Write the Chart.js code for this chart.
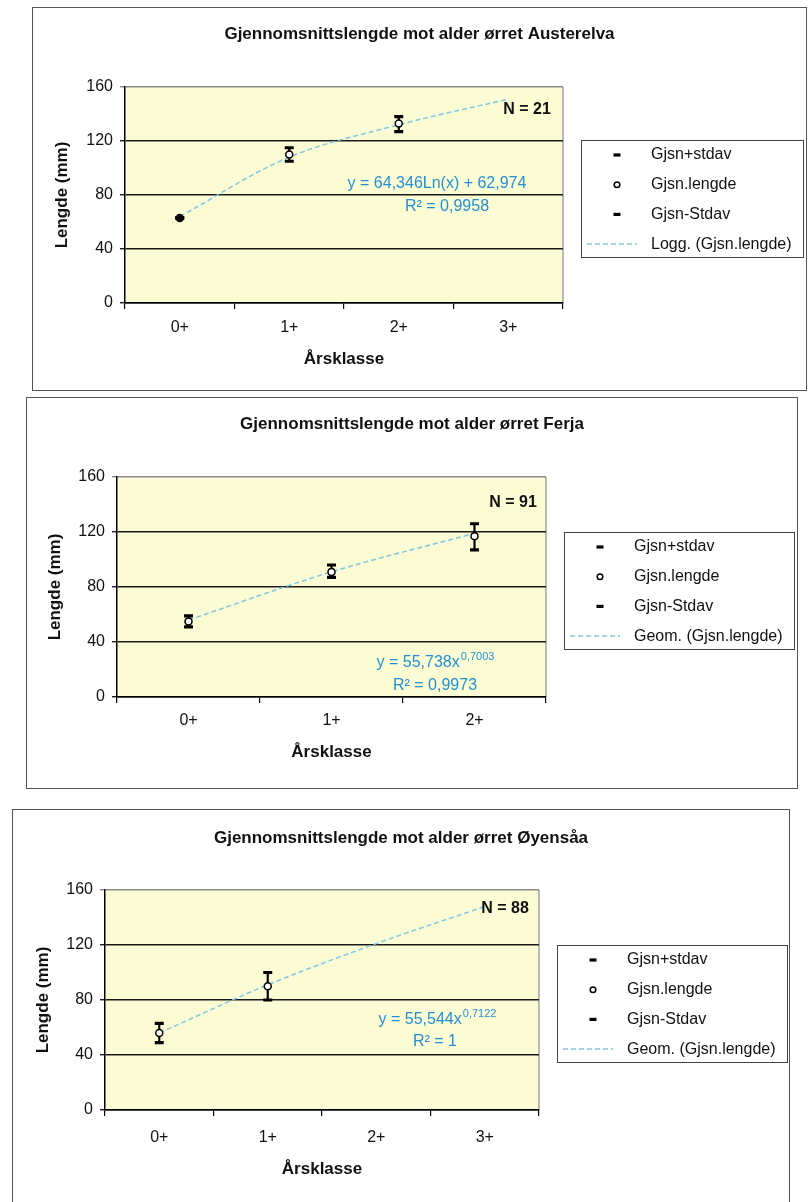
<!DOCTYPE html>
<html lang="no">
<head>
<meta charset="utf-8">
<title>Gjennomsnittslengde mot alder ørret</title>
<script src="https://cdn.jsdelivr.net/npm/chart.js@4.4.1/dist/chart.umd.min.js"></script>
<style>
  body { margin: 0; background: #fff; width: 811px; height: 1202px; position: relative; overflow: hidden; }
  .ramme { position: absolute; border: 1px solid #555; box-sizing: border-box; }
  canvas { position: absolute; }
</style>
</head>
<body>
<div class="ramme" style="left:32px;top:7px;width:775px;height:384px"></div>
<canvas id="austerelva" width="775" height="384" style="left:32px;top:7px"></canvas>

<div class="ramme" style="left:26px;top:397px;width:772px;height:392px"></div>
<canvas id="ferja" width="772" height="392" style="left:26px;top:397px"></canvas>

<div class="ramme" style="left:12px;top:809px;width:778px;height:400px"></div>
<canvas id="oyensaa" width="778" height="400" style="left:12px;top:809px"></canvas>

<script>
// Årsklasser
const klasser4 = ["0+", "1+", "2+", "3+"];
const klasser3 = ["0+", "1+", "2+"];

// Austerelva (N = 21)
const austerelvaPluss = [63, 115, 138, null];
const austerelvaSnitt = [63, 110, 133, null];
const austerelvaMinus = [63, 105, 127, null];
const austerelvaTrend = [64, 108, 132, 151];

// Ferja (N = 91)
const ferjaPluss = [59, 96, 126];
const ferjaSnitt = [55, 91, 117];
const ferjaMinus = [51, 87, 107];
const ferjaTrend = [56, 91, 119];

// Øyensåa (N = 88)
const oyensaaPluss = [63, 100, null, null];
const oyensaaSnitt = [56, 90, null, null];
const oyensaaMinus = [49, 80, null, null];
const oyensaaTrend = [56, 91, 121, 148];

// y-akse
const yMin = 0;
const yMaks = 160;
const ySteg = 40;

const familie = '"Liberation Sans", Arial, Helvetica, sans-serif';
const bla = "#2390d6";

Chart.defaults.font.family = familie;
Chart.defaults.color = "#111";

// gul plottflate og grå ramme til høyre
const plottFlate = {
  id: "plottFlate",
  beforeDraw(chart) {
    const { ctx, chartArea: a } = chart;
    ctx.save();
    ctx.fillStyle = "#fcfcd4";
    ctx.fillRect(a.left, a.top, a.width, a.height);
    ctx.strokeStyle = "#8a8a8a";
    ctx.lineWidth = 1.2;
    ctx.beginPath();
    ctx.moveTo(a.right, a.top);
    ctx.lineTo(a.right, a.bottom);
    ctx.stroke();
    ctx.restore();
  }
};

// N, trendlikning og forklaring med ramme
const merknader = {
  id: "merknader",
  afterDraw(chart, args, opts) {
    const { ctx, chartArea: a } = chart;
    ctx.save();
    ctx.textBaseline = "middle";

    ctx.font = "bold 16px " + familie;
    ctx.fillStyle = "#111";
    ctx.textAlign = "center";
    ctx.fillText(opts.n, a.left + opts.nPos[0], a.top + opts.nPos[1]);

    // likning
    ctx.fillStyle = bla;
    ctx.textAlign = "left";
    opts.likning.forEach(function (l) {
      ctx.font = "16px " + familie;
      const b1 = ctx.measureText(l.tekst).width;
      let b2 = 0;
      if (l.hevet) {
        ctx.font = "11px " + familie;
        b2 = ctx.measureText(l.hevet).width;
      }
      const x0 = a.left + l.x - (b1 + b2) / 2;
      const y0 = a.top + l.y;
      ctx.font = "16px " + familie;
      ctx.fillText(l.tekst, x0, y0);
      if (l.hevet) {
        ctx.font = "11px " + familie;
        ctx.fillText(l.hevet, x0 + b1 + 1, y0 - 6);
      }
    });

    // forklaring
    const poster = chart.data.datasets.filter(function (d) { return !d.ikkeIForklaring; });
    ctx.font = "16px " + familie;
    const tekstX = 70;
    let maks = 0;
    poster.forEach(function (d) { maks = Math.max(maks, ctx.measureText(d.label).width); });
    const bredde = Math.round(tekstX + maks + 11);
    const hoyde = 117;
    const venstre = Math.round(a.right + 18);
    const topp = Math.round((a.top + a.bottom) / 2 + 3 - hoyde / 2);
    ctx.strokeStyle = "#444";
    ctx.lineWidth = 1;
    ctx.strokeRect(venstre + 0.5, topp + 0.5, bredde, hoyde);

    poster.forEach(function (d, i) {
      const y = topp + 15 + i * 29.7;
      if (d.pointRadius === 0) {
        ctx.save();
        ctx.setLineDash(d.borderDash);
        ctx.strokeStyle = d.borderColor;
        ctx.lineWidth = d.borderWidth;
        ctx.beginPath();
        ctx.moveTo(venstre + 6, y);
        ctx.lineTo(venstre + 56, y);
        ctx.stroke();
        ctx.restore();
      } else {
        ctx.save();
        ctx.fillStyle = "#fff";
        ctx.strokeStyle = d.borderColor;
        ctx.lineWidth = d.pointBorderWidth;
        Chart.helpers.drawPoint(ctx, {
          pointStyle: d.pointStyle,
          radius: d.pointStyle === "circle" ? 2.8 : 3.5,
          borderWidth: d.pointBorderWidth,
          rotation: 0
        }, venstre + 36, y);
        ctx.restore();
      }
      ctx.fillStyle = "#111";
      ctx.fillText(d.label, venstre + tekstX, y);
    });
    ctx.restore();
  }
};

function lagGraf(id, o) {
  const ctx = document.getElementById(id).getContext("2d");
  // standardavvik som stolpe fra minus til pluss
  const spenn = o.pluss.map(function (p, i) { return p == null ? null : [o.minus[i], p]; });

  return new Chart(ctx, {
    type: "line",
    data: {
      labels: o.klasser,
      datasets: [
        {
          label: "Gjsn+stdav", data: o.pluss, yAxisID: "y",
          showLine: false, pointStyle: "line", pointRadius: 4.5, pointBorderWidth: 3.2,
          borderColor: "#000", backgroundColor: "#000", order: 1
        },
        {
          label: "Gjsn.lengde", data: o.snitt, yAxisID: "y",
          showLine: false, pointStyle: "circle", pointRadius: 3.5, pointBorderWidth: 1.5,
          borderColor: "#000",
          // fylt prikk der stdav er null (pluss og minus faller sammen)
          backgroundColor: function (c) {
            const i = c.dataIndex;
            return o.pluss[i] != null && o.pluss[i] === o.minus[i] ? "#000" : "#fff";
          },
          order: 2
        },
        {
          label: "Gjsn-Stdav", data: o.minus, yAxisID: "y",
          showLine: false, pointStyle: "line", pointRadius: 4.5, pointBorderWidth: 3.2,
          borderColor: "#000", backgroundColor: "#000", order: 1
        },
        {
          label: o.trendNavn, data: o.trend, yAxisID: "y",
          borderColor: "#7ec6e6", borderWidth: 1.5, borderDash: [5, 3],
          pointRadius: 0, tension: 0.35, fill: false, order: 4
        },
        {
          type: "bar", label: "stdav", data: spenn, yAxisID: "y",
          backgroundColor: "#000", barThickness: 1.5, order: 5, ikkeIForklaring: true
        }
      ]
    },
    options: {
      responsive: false,
      animation: false,
      events: [],
      layout: { padding: 0 },
      plugins: {
        legend: { display: false },
        tooltip: { enabled: false },
        title: {
          display: true,
          text: o.tittel,
          color: "#111",
          font: { size: 17, weight: "bold" },
          padding: { top: o.tittelTopp, bottom: o.tittelBunn }
        },
        merknader: o.merknader
      },
      scales: {
        x: {
          offset: true,
          grid: { offset: true, drawOnChartArea: false, drawTicks: true, tickLength: 6, color: "#000", lineWidth: 1.2 },
          border: { display: true, color: "#000", width: 1.5 },
          ticks: { padding: o.xTickPad, font: { size: 16 }, color: "#111" },
          title: {
            display: true, text: "Årsklasse", color: "#111",
            font: { size: 17, weight: "bold" },
            padding: { top: 0, bottom: o.xTittelPad }
          },
          afterFit: function (s) { s.height = o.xHoyde; }
        },
        y: {
          min: yMin,
          max: yMaks,
          ticks: { stepSize: ySteg, padding: 7, font: { size: 16 }, color: "#111" },
          grid: {
            color: function (c) { return c.tick && c.tick.value === yMaks ? "#8a8a8a" : "#1a1a1a"; },
            lineWidth: 1.4, tickLength: 5, drawTicks: true
          },
          border: { color: "#000", width: 1.5 },
          title: {
            display: true, text: "Lengde (mm)", color: "#111",
            font: { size: 17, weight: "bold" },
            padding: { top: o.yTittelPad, bottom: 0 }
          },
          afterFit: function (s) { s.width = o.yBredde; }
        },
        luft: {
          type: "linear",
          position: "right",
          display: true,
          grid: { display: false },
          border: { display: false },
          ticks: { display: false },
          afterFit: function (s) { s.width = o.hoyreLuft; }
        }
      }
    },
    plugins: [plottFlate, merknader]
  });
}

document.addEventListener("DOMContentLoaded", function () {
  lagGraf("austerelva", {
    tittel: "Gjennomsnittslengde mot alder ørret Austerelva",
    klasser: klasser4,
    pluss: austerelvaPluss, snitt: austerelvaSnitt, minus: austerelvaMinus, trend: austerelvaTrend,
    trendNavn: "Logg. (Gjsn.lengde)",
    tittelTopp: 17, tittelBunn: 42.6,
    yBredde: 93, yTittelPad: 20,
    xHoyde: 88, xTickPad: 9, xTittelPad: 21,
    hoyreLuft: 244,
    merknader: {
      n: "N = 21", nPos: [402, 23],
      likning: [
        { tekst: "y = 64,346Ln(x) + 62,974", x: 312, y: 97 },
        { tekst: "R² = 0,9958", x: 322, y: 120 }
      ]
    }
  });

  lagGraf("ferja", {
    tittel: "Gjennomsnittslengde mot alder ørret Ferja",
    klasser: klasser3,
    pluss: ferjaPluss, snitt: ferjaSnitt, minus: ferjaMinus, trend: ferjaTrend,
    trendNavn: "Geom. (Gjsn.lengde)",
    tittelTopp: 17, tittelBunn: 42.6,
    yBredde: 91, yTittelPad: 19,
    xHoyde: 92, xTickPad: 8, xTittelPad: 26,
    hoyreLuft: 252,
    merknader: {
      n: "N = 91", nPos: [396, 26],
      likning: [
        { tekst: "y = 55,738x", hevet: "0,7003", x: 318, y: 186 },
        { tekst: "R² = 0,9973", x: 318, y: 209 }
      ]
    }
  });

  lagGraf("oyensaa", {
    tittel: "Gjennomsnittslengde mot alder ørret Øyensåa",
    klasser: klasser4,
    pluss: oyensaaPluss, snitt: oyensaaSnitt, minus: oyensaaMinus, trend: oyensaaTrend,
    trendNavn: "Geom. (Gjsn.lengde)",
    tittelTopp: 19, tittelBunn: 41.6,
    yBredde: 93, yTittelPad: 21,
    xHoyde: 99, xTickPad: 12, xTittelPad: 29,
    hoyreLuft: 251,
    merknader: {
      n: "N = 88", nPos: [400, 19],
      likning: [
        { tekst: "y = 55,544x", hevet: "0,7122", x: 332, y: 130 },
        { tekst: "R² = 1", x: 330, y: 152 }
      ]
    }
  });
});
</script>
</body>
</html>
